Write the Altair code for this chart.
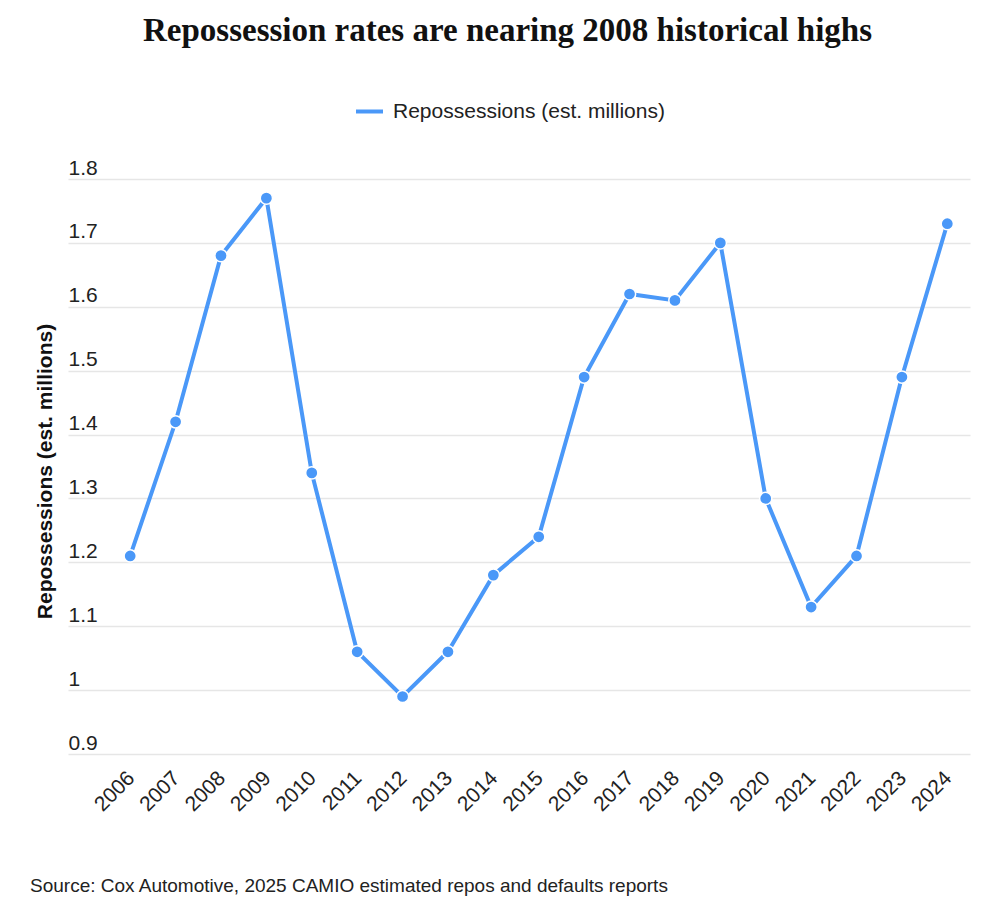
import altair as alt
import pandas as pd

years = [2006, 2007, 2008, 2009, 2010, 2011, 2012, 2013, 2014, 2015,
         2016, 2017, 2018, 2019, 2020, 2021, 2022, 2023, 2024]
repos = [1.21, 1.42, 1.68, 1.77, 1.34, 1.06, 0.99, 1.06, 1.18, 1.24,
         1.49, 1.62, 1.61, 1.70, 1.30, 1.13, 1.21, 1.49, 1.73]
y_ticks = [0.9, 1.0, 1.1, 1.2, 1.3, 1.4, 1.5, 1.6, 1.7, 1.8]
series_name = "Repossessions (est. millions)"
title_text = "Repossession rates are nearing 2008 historical highs"
source_text = "Source: Cox Automotive, 2025 CAMIO estimated repos and defaults reports"

BLUE = "#4A98F8"
SANS = "Liberation Sans"

df = pd.DataFrame({"year": years, "value": repos, "series": [series_name] * len(years)})

x_enc = alt.X("year:Q",
              scale=alt.Scale(domain=[2004.63, 2024.5], nice=False, zero=False),
              axis=alt.Axis(values=years, format="d", labelAngle=-45, grid=False,
                            domain=False, ticks=False, labelFontSize=21, labelFont=SANS,
                            labelColor="#222222", labelPadding=13, labelOffset=-7,
                            labelAlign="right", labelBaseline="top",
                            labelFlush=False, labelOverlap=False, title=None))
y_enc = alt.Y("value:Q",
              scale=alt.Scale(domain=[0.9, 1.8], nice=False, zero=False),
              axis=alt.Axis(values=y_ticks, format="~g", grid=True, gridColor="#e6e6e6",
                            gridWidth=1.5, domain=False, ticks=False, labelAlign="left",
                            labelBaseline="bottom", labelPadding=0, labelOffset=-1,
                            labelFontSize=21, labelFont=SANS, labelColor="#222222",
                            title=series_name, titleFont=SANS, titleFontSize=21,
                            titleFontWeight="bold", titleColor="#111111", titleAngle=-90,
                            titleAlign="center", titleBaseline="middle",
                            titleX=-23, titleY=292))

base = alt.Chart(df)

line = base.mark_line(strokeWidth=4).encode(
    x=x_enc, y=y_enc,
    color=alt.Color("series:N", scale=alt.Scale(range=[BLUE]),
                    legend=alt.Legend(title=None, orient="none", legendX=286, legendY=-83,
                                      symbolType="stroke", symbolSize=729,
                                      symbolStrokeWidth=4, labelFontSize=21,
                                      labelFont=SANS, labelColor="#222222",
                                      labelOffset=8, labelLimit=0, padding=0)),
)

points = base.mark_point(filled=True, size=150, color=BLUE, stroke="white",
                         strokeWidth=1.5, opacity=1).encode(
    x="year:Q", y="value:Q"
)

title = alt.Chart(pd.DataFrame({"t": [title_text]})).mark_text(
    font="Liberation Serif", fontSize=33, fontWeight="bold", color="#111111",
    align="center", baseline="alphabetic"
).encode(text="t:N", x=alt.value(439.5), y=alt.value(-138))

source = alt.Chart(pd.DataFrame({"t": [source_text]})).mark_text(
    font=SANS, fontSize=19, color="#222222", align="left", baseline="alphabetic"
).encode(text="t:N", x=alt.value(-38), y=alt.value(713))

chart = alt.layer(line, points, title, source).properties(
    width=902, height=575,
    padding={"left": 60, "top": 171, "right": 21, "bottom": 160},
    autosize=alt.AutoSizeParams(type="none"),
).configure(background="white").configure_view(strokeWidth=0, stroke=None)

chart.save("out.html", embed_options={"renderer": "svg", "actions": False})
